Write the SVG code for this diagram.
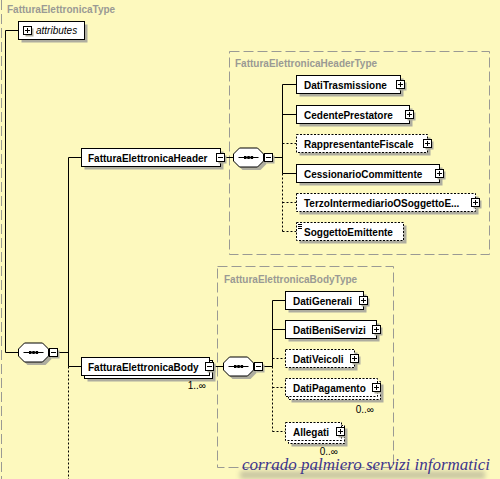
<svg xmlns="http://www.w3.org/2000/svg" xmlns:xlink="http://www.w3.org/1999/xlink" width="500" height="479" viewBox="0 0 500 479">
<style>
.bg{fill:#FDF9BE}
.box{fill:#fff;stroke:#000;stroke-width:1}
.opt{fill:#fff;stroke:#000;stroke-width:1;stroke-dasharray:2 1.5}
.sh{fill:#AEAD9F}
.name{font-family:"Liberation Sans",Arial,sans-serif;font-size:10px;font-weight:bold;fill:#000}
.attr{font-family:"Liberation Sans",Arial,sans-serif;font-size:10px;font-style:italic;fill:#000}
.type{font-family:"Liberation Sans",Arial,sans-serif;font-size:10px;font-weight:bold;fill:#9A9A94}
.card{font-family:"Liberation Sans",Arial,sans-serif;font-size:10px;fill:#000}
.ln{fill:none;stroke:#000;stroke-width:1}
.dot{fill:none;stroke:#000;stroke-width:1;stroke-dasharray:2 2}
.frame{fill:none;stroke:#9A9A94;stroke-width:1;stroke-dasharray:10 4}
.wm{font-family:"Liberation Serif","DejaVu Serif",serif;font-style:italic;font-size:16px;fill:#3E358C}
</style>
<defs>
<g id="plus"><rect x="-2" y="-2" width="8" height="8" class="sh"/><rect x="-4" y="-4" width="8" height="8" class="box"/><path d="M-2.5,0H2.5M0,-2.5V2.5" class="ln"/></g>
<g id="minus"><rect x="-2" y="-2" width="8" height="8" class="sh"/><rect x="-4" y="-4" width="8" height="8" class="box"/><path d="M-2.5,0H2.5" class="ln"/></g>
<g id="seq"><path d="M9,-6.5H27L33,-0.5V6.5L27,12.5H9L3,6.5V-0.5Z" class="sh"/><path d="M6,-9.5H24L30,-3.5V3.5L24,9.5H6L0,3.5V-3.5Z" class="box"/><path d="M5,0H25" class="ln"/><rect x="10.5" y="-1.5" width="2.5" height="3" fill="#000"/><rect x="13.8" y="-1.5" width="2.5" height="3" fill="#000"/><rect x="17.1" y="-1.5" width="2.5" height="3" fill="#000"/></g>
<filter id="blur" x="-20%" y="-100%" width="140%" height="300%"><feGaussianBlur stdDeviation="2.5"/></filter>
</defs>
<rect class="bg" x="0" y="0" width="500" height="479"/>

<g id="frames">
<line x1="1.5" y1="0" x2="1.5" y2="479" class="frame"/>
<text class="type" x="7" y="13">FatturaElettronicaType</text>
<rect x="229.5" y="51.5" width="260" height="203" class="frame"/>
<text class="type" x="235" y="67">FatturaElettronicaHeaderType</text>
<rect x="217.5" y="266.5" width="176" height="201" class="frame"/>
<text class="type" x="224" y="283">FatturaElettronicaBodyType</text>
</g>

<g id="connectors">
<path d="M5.5,30.5H18.5M5.5,30.5V352.5H18.5" class="ln"/>
<path d="M57.5,352.5H68.5M68.5,157.5V366.5M68.5,157.5H81.5M68.5,366.5H81.5" class="ln"/>
<path d="M68.5,366.5V479" class="dot"/>
<path d="M224.5,157.5H233.5M272.5,157.5H282.5M282.5,84.5V173.5" class="ln"/>
<path d="M282.5,84.5H296.5M282.5,114.5H296.5M282.5,173.5H296.5" class="ln"/>
<path d="M282.5,173.5V231.5M282.5,143.5H296.5M282.5,202.5H296.5M282.5,231.5H296.5" class="dot"/>
<path d="M213.5,366.5H223.5M262.5,366.5H272.5M272.5,300.5V366.5" class="ln"/>
<path d="M272.5,300.5H285.5M272.5,329.5H285.5" class="ln"/>
<path d="M272.5,366.5V431.5M272.5,358.5H285.5M272.5,387.5H285.5M272.5,431.5H285.5" class="dot"/>
</g>

<g id="attributes">
<rect x="21.5" y="24.5" width="66" height="18" class="sh"/>
<rect x="18.5" y="21.5" width="66" height="18" class="box"/>
<use xlink:href="#plus" x="27.5" y="30.5"/>
<text class="attr" x="36" y="34">attributes</text>
</g>

<g id="seq1"><use xlink:href="#seq" x="18.5" y="352.5"/><use xlink:href="#minus" x="53.5" y="352.5"/></g>

<g id="FatturaElettronicaHeader">
<rect x="84.5" y="151.5" width="139" height="18" class="sh"/>
<rect x="81.5" y="148.5" width="139" height="18" class="box"/>
<text class="name" x="88" y="161.5">FatturaElettronicaHeader</text>
<use xlink:href="#minus" x="220.5" y="157.5"/>
</g>

<g id="seq2"><use xlink:href="#seq" x="233.5" y="157.5"/><use xlink:href="#minus" x="268.5" y="157.5"/></g>

<g id="DatiTrasmissione">
<rect x="299.5" y="78.5" width="104" height="18" class="sh"/>
<rect x="296.5" y="75.5" width="104" height="18" class="box"/>
<text class="name" x="304" y="88.5">DatiTrasmissione</text>
<use xlink:href="#plus" x="400.5" y="84.5"/>
</g>
<g id="CedentePrestatore">
<rect x="299.5" y="108.5" width="113" height="18" class="sh"/>
<rect x="296.5" y="105.5" width="113" height="18" class="box"/>
<text class="name" x="304" y="118.5">CedentePrestatore</text>
<use xlink:href="#plus" x="409.5" y="114.5"/>
</g>
<g id="RappresentanteFiscale">
<rect x="299.5" y="137.5" width="131" height="18" class="sh"/>
<rect x="296.5" y="134.5" width="131" height="18" class="opt"/>
<text class="name" x="304" y="147.5">RappresentanteFiscale</text>
<use xlink:href="#plus" x="427.5" y="143.5"/>
</g>
<g id="CessionarioCommittente">
<rect x="299.5" y="167.5" width="143" height="18" class="sh"/>
<rect x="296.5" y="164.5" width="143" height="18" class="box"/>
<text class="name" x="304" y="177.5">CessionarioCommittente</text>
<use xlink:href="#plus" x="439.5" y="173.5"/>
</g>
<g id="TerzoIntermediarioOSoggettoEmittente">
<rect x="299.5" y="196.5" width="179" height="18" class="sh"/>
<rect x="296.5" y="193.5" width="179" height="18" class="opt"/>
<text class="name" x="304" y="206.5">TerzoIntermediarioOSoggettoE...</text>
<use xlink:href="#plus" x="475.5" y="202.5"/>
</g>
<g id="SoggettoEmittente">
<rect x="299.5" y="225.5" width="107" height="18" class="sh"/>
<rect x="296.5" y="222.5" width="107" height="18" class="opt"/>
<path d="M298,224.5H302M298,226.5H302M298,228.5H302" class="ln"/>
<text class="name" x="304" y="235.5">SoggettoEmittente</text>
</g>

<g id="FatturaElettronicaBody">
<rect x="87.5" y="363.5" width="128" height="18" class="sh"/>
<rect x="84.5" y="360.5" width="128" height="18" class="box"/>
<rect x="81.5" y="357.5" width="128" height="18" class="box"/>
<text class="name" x="88" y="370.5">FatturaElettronicaBody</text>
<use xlink:href="#minus" x="209.5" y="366.5"/>
<text class="card" x="206" y="389" text-anchor="end">1..∞</text>
</g>

<g id="seq3"><use xlink:href="#seq" x="223.5" y="366.5"/><use xlink:href="#minus" x="258.5" y="366.5"/></g>

<g id="DatiGenerali">
<rect x="288.5" y="294.5" width="78" height="18" class="sh"/>
<rect x="285.5" y="291.5" width="78" height="18" class="box"/>
<text class="name" x="293" y="304.5">DatiGenerali</text>
<use xlink:href="#plus" x="363.5" y="300.5"/>
</g>
<g id="DatiBeniServizi">
<rect x="288.5" y="323.5" width="91" height="18" class="sh"/>
<rect x="285.5" y="320.5" width="91" height="18" class="box"/>
<text class="name" x="293" y="333.5">DatiBeniServizi</text>
<use xlink:href="#plus" x="376.5" y="329.5"/>
</g>
<g id="DatiVeicoli">
<rect x="288.5" y="352.5" width="69" height="18" class="sh"/>
<rect x="285.5" y="349.5" width="69" height="18" class="opt"/>
<text class="name" x="293" y="362.5">DatiVeicoli</text>
<use xlink:href="#plus" x="354.5" y="358.5"/>
</g>
<g id="DatiPagamento">
<rect x="291.5" y="384.5" width="92" height="18" class="sh"/>
<rect x="288.5" y="381.5" width="92" height="18" class="opt"/>
<rect x="285.5" y="378.5" width="92" height="18" class="opt"/>
<text class="name" x="293" y="391.5">DatiPagamento</text>
<use xlink:href="#plus" x="376.5" y="387.5"/>
<text class="card" x="374" y="413" text-anchor="end">0..∞</text>
</g>
<g id="Allegati">
<rect x="291.5" y="428.5" width="56" height="18" class="sh"/>
<rect x="288.5" y="425.5" width="56" height="18" class="opt"/>
<rect x="285.5" y="422.5" width="56" height="18" class="opt"/>
<text class="name" x="293" y="435.5">Allegati</text>
<use xlink:href="#plus" x="340.5" y="431.5"/>
<text class="card" x="338" y="455" text-anchor="end">0..∞</text>
</g>

<g id="watermark">
<rect x="240" y="471" width="245" height="8" fill="#8a8a80" opacity="0.45" filter="url(#blur)"/>
<text class="wm" x="242" y="470" textLength="248" lengthAdjust="spacingAndGlyphs">corrado palmiero servizi informatici</text>
</g>
</svg>
